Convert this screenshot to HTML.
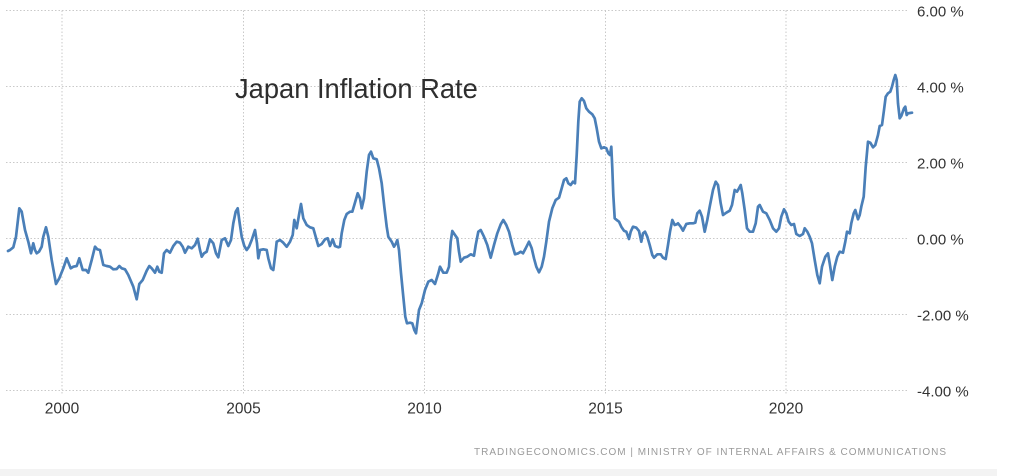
<!DOCTYPE html>
<html>
<head>
<meta charset="utf-8">
<style>
  html, body { margin:0; padding:0; background:#ffffff; }
  body { width:1028px; height:476px; overflow:hidden; }
  svg { display:block; }
  text { font-family: "Liberation Sans", "DejaVu Sans", sans-serif; }
</style>
</head>
<body>
<svg width="1028" height="476" viewBox="0 0 1028 476" xmlns="http://www.w3.org/2000/svg">
  <rect x="0" y="0" width="1028" height="476" fill="#ffffff"/>

  <!-- horizontal gridlines -->
  <g stroke="#c9c9c9" stroke-width="1" stroke-dasharray="1.5,2">
    <line x1="6" y1="10.5" x2="908" y2="10.5"/>
    <line x1="6" y1="86.5" x2="908" y2="86.5"/>
    <line x1="6" y1="162.5" x2="908" y2="162.5"/>
    <line x1="6" y1="238.5" x2="908" y2="238.5"/>
    <line x1="6" y1="314.5" x2="908" y2="314.5"/>
    <line x1="6" y1="390.5" x2="908" y2="390.5"/>
  </g>
  <!-- vertical gridlines -->
  <g stroke="#c9c9c9" stroke-width="1" stroke-dasharray="1.5,2">
    <line x1="62" y1="10.5" x2="62" y2="394"/>
    <line x1="243.5" y1="10.5" x2="243.5" y2="394"/>
    <line x1="424.5" y1="10.5" x2="424.5" y2="394"/>
    <line x1="605.5" y1="10.5" x2="605.5" y2="394"/>
    <line x1="786" y1="10.5" x2="786" y2="394"/>
  </g>

  <!-- title -->
  <text x="235" y="98" font-size="27.3" fill="#2e2e2e">Japan Inflation Rate</text>

  <!-- series -->
  <polyline fill="none" stroke="#4a7fb8" stroke-width="2.7" stroke-linejoin="round" stroke-linecap="round"
    points="8,251 10,250 13.3,247.3 16,236.7 19.3,208.3 21.7,211.7 25,230 28.3,241.7 31,253.3 33.3,243.3 35,250 36.7,253.3 39,251.7 41.7,246.7 43.3,236.7 46,227.3 48.3,236.7 51.7,260 56,284 59.3,278.3 63.3,268.3 66.7,258.3 70.7,268.3 73.3,266.7 76.7,266 79.3,258.3 82.7,270 86,270 88.3,272.7 91.7,260 95,246.7 97.3,249.3 100,250 103.3,265 106.7,266 110,266.7 113.3,269.3 116.7,269 119.3,266 121.7,268.3 125,269.3 128.3,275 133.3,286.7 136.7,299.3 139.3,284 142.7,280 146.7,270.7 149.3,266 151.7,268.3 155,272.7 157.3,266.7 159.3,271.7 161.7,272.7 164,253.3 166.7,250 170,252.7 173.3,246 176.7,241.7 180,242.7 182.7,246.7 185,252.7 188.3,246.7 191.7,248.3 195,245 197.7,238.7 200,250 201.7,256.7 204,253.3 206.7,251.7 210,239.3 213.3,243.3 216,253.3 218.3,257.3 221.7,240
    225,238.3 228.3,246 231,240 233.3,223.3 235.7,211.7 237.7,208.3 239.7,223.3 241.7,236.7 244.3,246 246.7,250 249,246.7 251.7,240 255,230 257,243.3 258.3,258.3 260,250 263.3,249.3 266.7,250 268.3,258.3 271,268.3 273.3,270 275,256.7 276.7,241.7 280,240 283.3,242.7 286.7,246.7 290,241.7 292.7,235 294.3,220 296.7,228.3 299,215 301,204 303.3,218.3 306.7,225 310,227.3 313.3,228.3 315.7,236.7 318.3,246 321.7,244 325,239.3 327.7,238.3 330,246 332.7,239.3 335,246 338.3,247.3 340,246.7 341.7,233.3 344.3,220 346.7,214 350,211.7 352.3,211.7 354.3,205 357.7,193.3 360,198.3 361.7,208.3 364,198.3 366.7,171.7 369,155 371,151.7 373.3,158.3 376.7,159.3 379,168.3 381.7,183.3 384.3,206.7 386.7,226.7 388.3,236.7 391.7,241.7 394,246.7 396,243.3 397.3,240 399,250 401,273.3 403.3,296.7 405.3,316.7 407,323.3 410,322.7 412.3,323.3 414.3,330 416,333.3 417.7,320 419,310 421.7,303.3 425,290 428.3,281.7 431.7,280 435,284 438.3,273.3 440,266.7 443.3,272.7 446.7,272.7 449,266.7
    450.7,241.7 452.3,231 455,235 457.3,238.3 459,251.7 460.7,261.7 464,257.7 467.3,256.7 470.7,254.3 474,255.7 475.7,245 478.3,231.7 480.7,230 484,236.7 487.3,245 490.7,257.7 494,245 497.3,233.3 500.7,224.3 503.3,220 506.3,225 509,231.7 512.3,245 515,254.3 518.3,253.3 520.7,251.7 523,253.3 525.7,248.3 529,241.7 531.7,248.3 534,258.3 536.3,266.7 539,272.3 541.7,266.7 544,256.7 546.3,241.7 549,221.7 552.3,208.3 555.7,200 559,197.7 561.7,188.3 564,180 566.3,178.3 568.3,183.3 570.7,185 573,181.7 575,183.3 576.7,155 578.3,121.7 579.7,101.7 581.7,98.3 584,101 586.3,108.3 589,111.7 592.3,114.3 594.7,118.3 596.7,128.3 599,141.7 601.3,148.3 604,147.3 606.3,148.3 608.3,153.3 610,155 611.3,146.7 612.3,168.3 613.3,195 614.7,218.3 616.7,220 619,221.7 621.3,226.7 624,230.7 626.3,231.7 629,239 630.7,231.7 633,226.7 636.3,227.7 639,231 641.3,241.7 643,233.3 645,231.7 647.3,236.7 649.7,245 652.3,255 654,257.7 657.3,254.3 660.7,254.3 663,257.7 665.7,259 668,245 670,231.7 672.3,220 674.7,225 676.7,224.3
    678,223.3 680.7,226.7 683,230.7 686.3,224 689.7,223.3 693,223.3 695.3,222.7 697.3,213.3 699.7,210.7 702,216.7 704.7,231.7 707.3,220 709.7,206.7 713,190 715.7,181.7 718,185 720.7,203.3 723,215 726.3,212.7 729.7,210.7 732,205 734.7,190 737,191.7 739,188.3 740.7,185 742.3,193.3 744.7,210 747,228.3 749.7,231.7 753,231.7 755.7,223.3 758,206.7 759.7,205 763,211.7 766.3,213.3 769.7,220 773,228.3 776.3,231.7 779,228.3 781.3,216.7 784,209.3 786.3,213.3 788.7,221.7 791.3,225 794,224 796.3,234 799.7,236 803,234 804.7,228.3 807.3,231.7 809.7,236.7 812,243.3 814.7,260 817.3,275 819.7,283.3 822,266.7 825.3,256.7 828,253.3 829.7,263.3 832.3,280 834.7,266.7 837.3,256.7 839.7,251.7 843,252.7 845.3,241.7 847,231.7 849.7,233.3 851.3,223.3 853.7,213.3 855.3,210 858,219.3 859.7,215 861.3,206.7 863.7,196.7 865.7,166.7 868,141.7 870.3,142.7 873,147.3 875.3,145 878,135 879.7,126 882,125 884,110 885.7,96.7 888,93.3 890.3,91.7 892,86.7 893.7,80 895.3,75 896.7,80 898,103.3 899.7,118.3 901.3,116 904,108.3 905.3,106.7 906.7,115 908,113.3 910,113 912,112.7"/>

  <!-- y-axis labels -->
  <g font-size="15" fill="#333333">
    <text x="917" y="16.5">6.00 %</text>
    <text x="917" y="92.5">4.00 %</text>
    <text x="917" y="168.5">2.00 %</text>
    <text x="917" y="244.5">0.00 %</text>
    <text x="917" y="320.5">-2.00 %</text>
    <text x="917" y="396.5">-4.00 %</text>
  </g>

  <!-- x-axis labels -->
  <g font-size="15.5" fill="#333333" text-anchor="middle">
    <text x="62" y="413.5">2000</text>
    <text x="243.5" y="413.5">2005</text>
    <text x="424.5" y="413.5">2010</text>
    <text x="605.5" y="413.5">2015</text>
    <text x="786" y="413.5">2020</text>
  </g>

  <!-- footer -->
  <text x="474" y="455" font-size="10" fill="#9a9a9a" textLength="472" lengthAdjust="spacing">TRADINGECONOMICS.COM  |  MINISTRY OF INTERNAL AFFAIRS &amp; COMMUNICATIONS</text>

  <rect x="0" y="469" width="997" height="7" fill="#f3f3f3"/>
</svg>
</body>
</html>
